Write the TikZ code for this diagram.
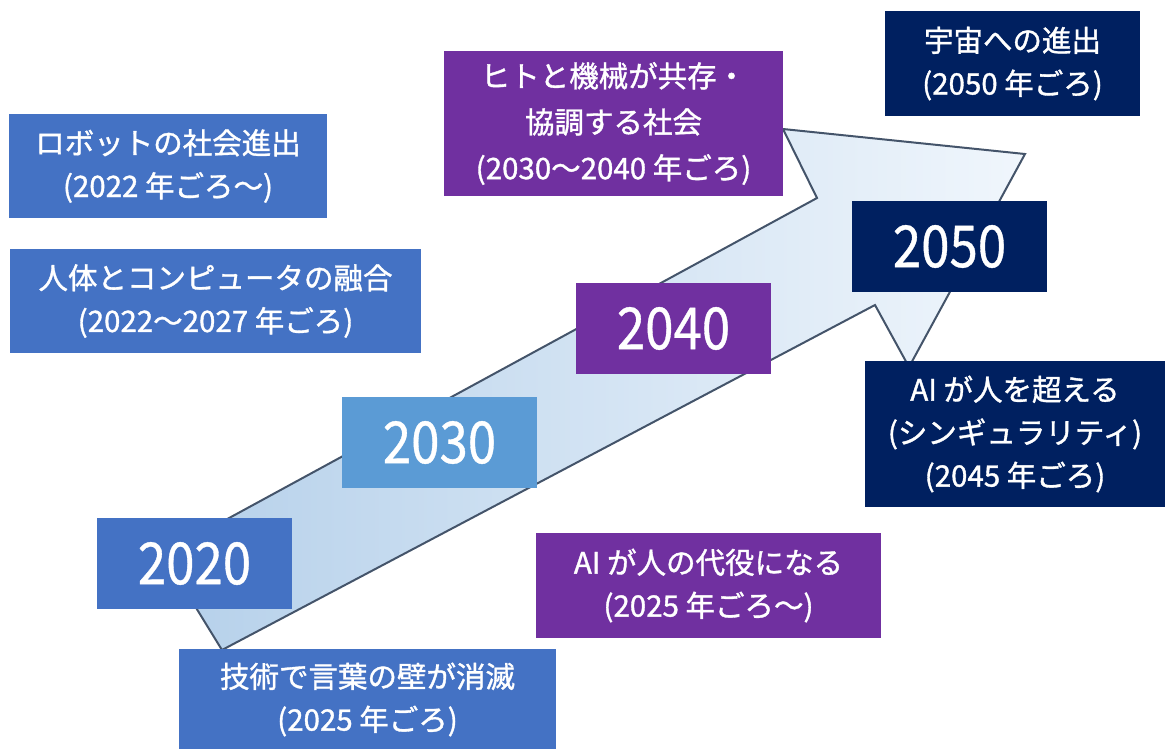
\documentclass[tikz,border=0pt]{standalone}
\usepackage{fontspec}
\setmainfont[FakeBold=1.2]{Noto Sans CJK JP}
\newfontfamily\yearfont[FakeStretch=0.88,FakeBold=0.6]{Noto Sans CJK JP}
\definecolor{blueA}{HTML}{4472C4}
\definecolor{blueB}{HTML}{5B9BD5}
\definecolor{purpleA}{HTML}{7030A0}
\definecolor{navyA}{HTML}{002060}
\definecolor{arrowline}{HTML}{44546A}
\definecolor{arrowL}{HTML}{B5D0EA}
\definecolor{arrowM}{HTML}{C8DCF0}
\definecolor{arrowR}{HTML}{F0F6FC}
\tikzset{
  box/.style={rectangle, inner sep=0pt, text=white, align=center,
    font=\fontsize{29.5}{43}\selectfont},
  yearbox/.style={rectangle, inner sep=0pt, text=white, align=center,
    font=\yearfont\fontsize{58}{58}\selectfont,
    minimum width=195pt, minimum height=91pt},
  bigarrow/.style={draw=arrowline, line width=2pt, line join=miter,
    left color=arrowL, middle color=arrowM, right color=arrowR}
}
\begin{document}
\begin{tikzpicture}[x=1pt,y=-1pt]
\useasboundingbox (0,0) rectangle (1165,748);
% big arrow
\coordinate (t1) at (163,554);
\coordinate (s1) at (817,198);
\coordinate (b1) at (783,129);
\coordinate (tip) at (1025,154);
\coordinate (b2) at (909,367);
\coordinate (s2) at (875,305);
\coordinate (t2) at (222,650);
\path[bigarrow] (t1) -- (s1) -- (b1) -- (tip) -- (b2) -- (s2) -- (t2) -- cycle;
% event boxes
\node[box, fill=blueA, minimum width=318pt, minimum height=104pt] (robot) at (168,166)
  {ロボットの社会進出\\(2022 年ごろ～)};
\node[box, fill=blueA, minimum width=411pt, minimum height=104pt] (jintai) at (215.5,301)
  {人体とコンピュータの融合\\(2022～2027 年ごろ)};
\node[box, fill=purpleA, minimum width=339pt, minimum height=145pt,
  font=\fontsize{29.5}{46}\selectfont] (hito) at (613.5,123.5)
  {ヒトと機械が共存・\\協調する社会\\(2030～2040 年ごろ)};
\node[box, fill=navyA, minimum width=255pt, minimum height=105pt] (uchu) at (1012.5,63.5)
  {宇宙への進出\\(2050 年ごろ)};
\node[box, fill=navyA, minimum width=300pt, minimum height=146pt] (koeru) at (1015,434)
  {AI が人を超える\\(シンギュラリティ)\\(2045 年ごろ)};
\node[box, fill=purpleA, minimum width=345pt, minimum height=105pt] (daiyaku) at (708.5,585.5)
  {AI が人の代役になる\\(2025 年ごろ～)};
\node[box, fill=blueA, minimum width=377pt, minimum height=101pt] (gijutsu) at (367.5,699.5)
  {技術で言葉の壁が消滅\\(2025 年ごろ)};
% year boxes
\node[yearbox, fill=blueA] (y2020) at (194.5,563.5) {2020};
\node[yearbox, fill=blueB] (y2030) at (439.5,442.5) {2030};
\node[yearbox, fill=purpleA] (y2040) at (673.5,328.5) {2040};
\node[yearbox, fill=navyA] (y2050) at (949.5,246.5) {2050};
\end{tikzpicture}
\end{document}
